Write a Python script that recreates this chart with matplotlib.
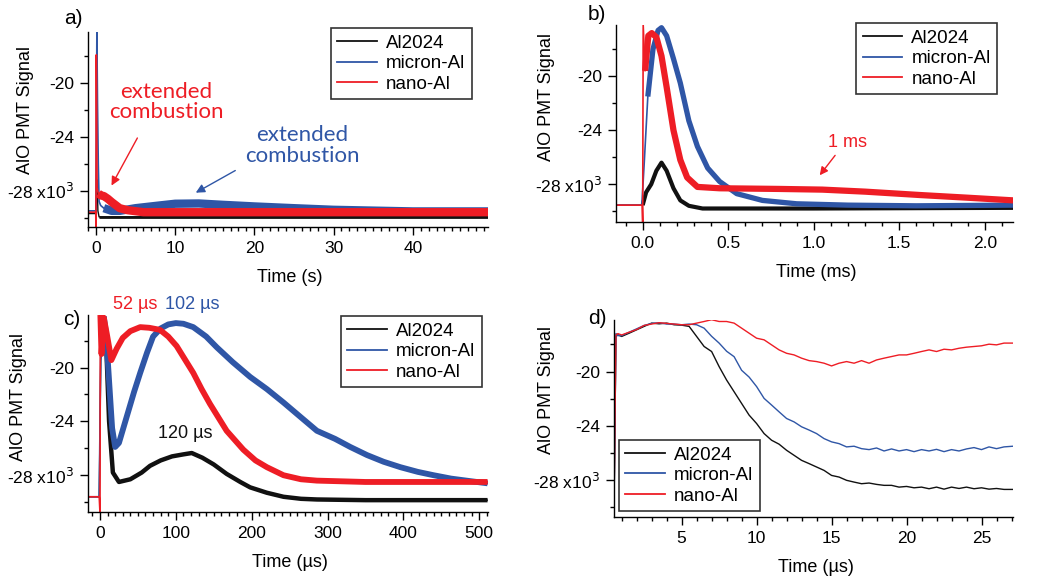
import matplotlib
matplotlib.use("Agg")
import matplotlib.pyplot as plt
from matplotlib.ticker import MultipleLocator, FixedLocator, FixedFormatter

plt.rcParams['font.family'] = ['Liberation Sans', 'DejaVu Sans']

BLACK = "#111111"
BLUE = "#2f56a6"
RED = "#ee1d25"

labels = ["Al2024", "micron-Al", "nano-Al"]

# panel a, time in s, signal in x10^3
a_black_t = [-1.0, 0.0, 0.15, 0.25, 0.4, 1.0, 2.0, 49.5]
a_black = [-29.7, -29.7, -27.2, -29.5, -29.95, -29.95, -29.95, -29.95]
a_blue_t = [-1.0, 0.0, 0.12, 0.2, 0.3, 0.4, 0.6, 1.0, 2.0, 3.0, 5.0, 8.0, 10.0, 13.0, 16.0, 20.0, 25.0, 30.0, 40.0, 49.5]
a_blue = [-29.5, -29.5, -16.2, -21.5, -26.0, -28.8, -29.1, -29.3, -29.5, -29.5, -29.3, -29.1, -28.97, -28.95, -29.05, -29.17, -29.3, -29.42, -29.54, -29.54]
a_red_t = [-1.0, -0.02, 0.0, 0.05, 0.15, 0.3, 0.6, 1.0, 1.5, 2.0, 3.0, 4.0, 6.0, 49.5]
a_red = [-29.6, -29.6, -30.8, -17.9, -27.8, -28.2, -28.35, -28.4, -28.6, -28.85, -29.3, -29.45, -29.6, -29.6]

# panel b, time in ms
b_black_t = [-0.15, 0.0, 0.02, 0.05, 0.08, 0.11, 0.14, 0.18, 0.22, 0.27, 0.35, 0.5, 1.0, 2.17]
b_black = [-29.55, -29.55, -28.6, -28.0, -27.0, -26.4, -27.0, -28.3, -29.2, -29.6, -29.8, -29.8, -29.8, -29.75]
b_blue_t = [-0.15, -0.005, 0.01, 0.03, 0.06, 0.09, 0.11, 0.14, 0.18, 0.22, 0.27, 0.32, 0.38, 0.45, 0.55, 0.7, 0.9, 1.2, 1.6, 2.17]
b_blue = [-29.55, -29.55, -26.2, -21.5, -18.0, -16.6, -16.4, -17.0, -18.7, -20.5, -23.3, -25.2, -26.8, -27.8, -28.7, -29.2, -29.45, -29.55, -29.6, -29.55]
b_red_t = [-0.15, -0.003, 0.0, 0.003, 0.014, 0.033, 0.053, 0.08, 0.11, 0.14, 0.18, 0.22, 0.26, 0.32, 0.45, 0.8, 1.05, 1.3, 1.62, 1.9, 2.17]
b_red = [-29.55, -29.55, -30.8, -16.2, -19.6, -17.0, -16.8, -17.1, -18.5, -20.8, -24.0, -26.2, -27.5, -28.2, -28.3, -28.35, -28.4, -28.55, -28.8, -29.0, -29.2]

# panel c, time in us
c_black_t = [-15, -1, 1, 5, 8, 12, 17, 25, 40, 55, 66, 80, 95, 110, 121, 135, 150, 167, 185, 198, 220, 242, 265, 286, 350, 420, 511]
c_black = [-29.6, -29.6, -19.5, -16.2, -18.0, -24.0, -27.8, -28.5, -28.3, -27.8, -27.3, -26.9, -26.6, -26.45, -26.35, -26.7, -27.2, -27.9, -28.5, -28.9, -29.3, -29.6, -29.75, -29.8, -29.85, -29.85, -29.85]
c_blue_t = [-15, -1, 1, 5, 8, 12, 16, 20, 25, 35, 45, 53, 62, 70, 80, 90, 100, 110, 123, 140, 154, 175, 198, 220, 242, 265, 286, 310, 330, 352, 374, 396, 419, 440, 463, 490, 511]
c_blue = [-29.6, -29.6, -19.0, -16.2, -17.5, -21.0, -24.5, -25.9, -25.6, -23.7, -21.8, -20.4, -18.9, -17.7, -17.1, -16.8, -16.7, -16.75, -17.0, -17.7, -18.5, -19.6, -20.7, -21.6, -22.6, -23.7, -24.7, -25.3, -25.9, -26.5, -27.0, -27.4, -27.75, -28.0, -28.25, -28.45, -28.6]
c_red_t = [-15, -1, 0, 0.5, 2, 5, 9, 15, 22, 30, 40, 53, 65, 79, 90, 101, 112, 123, 134, 145, 156, 167, 178, 189, 205, 220, 242, 265, 286, 350, 420, 511]
c_red = [-29.6, -29.6, -30.8, -16.1, -19.0, -16.3, -17.5, -19.45, -18.6, -17.8, -17.3, -17.0, -17.05, -17.2, -17.7, -18.4, -19.4, -20.4, -21.6, -22.7, -23.7, -24.7, -25.4, -26.1, -26.9, -27.4, -28.0, -28.3, -28.4, -28.5, -28.5, -28.5]

# panel d, time in us
d_t = [0.5, 0.62, 0.75, 1.0, 1.5, 2.0, 2.5, 3.0, 3.5, 4.0, 4.5, 5.0, 5.5, 6.0, 6.5, 7.0, 7.5, 8.0, 8.5, 9.0,
       9.5, 10.0, 10.5, 11.0, 11.5, 12.0, 12.5, 13.0, 13.5, 14.0, 14.5, 15.0, 15.5, 16.0, 16.5, 17.0, 17.5, 18.0,
       18.5, 19.0, 19.5, 20.0, 20.5, 21.0, 21.5, 22.0, 22.5, 23.0, 23.5, 24.0, 24.5, 25.0, 25.5, 26.0, 26.5, 27.1]
d_black = [-29.24, -17.41, -17.29, -17.41, -17.17, -16.92, -16.67, -16.43, -16.48, -16.43, -16.55, -16.58, -16.67,
           -17.41, -18.15, -18.52, -19.63, -20.62, -21.48, -22.34, -23.20, -23.82, -24.56, -25.05, -25.34, -25.79,
           -26.16, -26.53, -26.77, -27.02, -27.27, -27.64, -27.76, -28.00, -28.13, -28.25, -28.20, -28.30, -28.37,
           -28.37, -28.50, -28.45, -28.55, -28.50, -28.62, -28.50, -28.65, -28.50, -28.60, -28.50, -28.62, -28.55,
           -28.65, -28.60, -28.67, -28.67]
d_blue = [-29.3, -17.2, -17.35, -17.35, -17.1, -16.85, -16.6, -16.45, -16.4, -16.5, -16.5, -16.55, -16.5, -16.55,
          -16.8, -17.4, -17.9, -18.5, -18.9, -19.9, -20.4, -21.1, -21.97, -22.46, -22.96, -23.45, -23.7, -24.06,
          -24.3, -24.56, -24.93, -25.17, -25.3, -25.54, -25.49, -25.67, -25.74, -25.62, -25.84, -25.69, -25.84,
          -25.74, -25.89, -25.74, -25.84, -25.72, -25.89, -25.74, -25.84, -25.69, -25.59, -25.74, -25.54, -25.67,
          -25.54, -25.49]
d_red = [-29.0, -17.3, -17.2, -17.3, -17.1, -16.9, -16.6, -16.5, -16.4, -16.45, -16.5, -16.55, -16.55, -16.43,
         -16.31, -16.18, -16.31, -16.31, -16.43, -16.8, -17.17, -17.54, -17.66, -18.03, -18.4, -18.65, -18.77,
         -19.01, -19.19, -19.26, -19.38, -19.58, -19.38, -19.26, -19.38, -19.19, -19.38, -19.14, -19.01, -18.89,
         -18.77, -18.77, -18.65, -18.52, -18.4, -18.52, -18.35, -18.4, -18.28, -18.2, -18.15, -18.1, -17.98,
         -18.03, -17.9, -17.9]

W, H = 1045, 581
fig = plt.figure(figsize=(W / 100, H / 100), dpi=100)


def make_axes(left, top, right, bottom):
    return fig.add_axes([left / W, 1 - bottom / H, (right - left) / W, (bottom - top) / H])


def style(ax, xlim, ylim, xmajor, xminor, xlabel, ylab_x, ylab_y):
    ax.set_xlim(*xlim)
    ax.set_ylim(*ylim)
    for s in ["top", "right"]:
        ax.spines[s].set_visible(False)
    for s in ["left", "bottom"]:
        ax.spines[s].set_linewidth(1.0)
    ax.xaxis.set_major_locator(MultipleLocator(xmajor))
    ax.xaxis.set_minor_locator(MultipleLocator(xminor))
    ax.yaxis.set_major_locator(FixedLocator([-28, -24, -20]))
    ax.yaxis.set_major_formatter(FixedFormatter(["-28 x10$^3$", "-24", "-20"]))
    ax.yaxis.set_minor_locator(MultipleLocator(2))
    ax.tick_params(which="major", direction="out", length=6, width=1, labelsize=12.5, pad=4)
    ax.tick_params(which="minor", direction="out", length=3, width=1)
    ax.set_xlabel(xlabel, fontsize=13)
    ax.xaxis.set_label_coords(0.505, -0.215)
    ax.xaxis.label.set_va("top")
    ax.set_ylabel("AlO PMT Signal", fontsize=13)
    ax.yaxis.set_label_coords(ylab_x, ylab_y)


def trace(ax, t, y, color, thin, thick, cut):
    ax.plot(t, y, color=color, lw=thin, solid_joinstyle="round")
    if thick > thin:
        ax.plot(t[cut:], y[cut:], color=color, lw=thick,
                solid_capstyle="butt", solid_joinstyle="round")


def legend(ax, loc, anchor):
    handles = [plt.Line2D([], [], color=c, lw=1.3) for c in (BLACK, BLUE, RED)]
    lg = ax.legend(handles, labels, loc=loc, bbox_to_anchor=anchor, fontsize=13.5,
                   frameon=True, fancybox=False, edgecolor="#333333", framealpha=1,
                   handlelength=2.1, handletextpad=0.5, labelspacing=0.18, borderpad=0.35,
                   borderaxespad=0)
    lg.get_frame().set_linewidth(1.2)


ANN = ['Lato', 'DejaVu Sans']

# ---- a)
ax = make_axes(88, 32, 488, 227)
trace(ax, a_black_t, a_black, BLACK, 1.0, 2.0, 4)
trace(ax, a_blue_t, a_blue, BLUE, 1.2, 6.0, 7)
trace(ax, a_red_t, a_red, RED, 1.2, 6.0, 5)
style(ax, (-1, 49.5), (-30.7, -16.2), 10, 1, "Time (s)", -0.135, 0.6)
legend(ax, "upper right", (0.96, 1.02))
ax.annotate("", xy=(1.8, -27.8), xytext=(5.4, -23.9),
            arrowprops=dict(arrowstyle="-|>", color=RED, lw=1, mutation_scale=13))
ax.text(8.9, -21.4, "extended\ncombustion", color=RED, fontsize=16, family=ANN,
        ha="center", va="center", linespacing=1.05)
ax.annotate("", xy=(12.3, -28.25), xytext=(17.9, -26.4),
            arrowprops=dict(arrowstyle="-|>", color=BLUE, lw=1, mutation_scale=13))
ax.text(26.1, -24.65, "extended\ncombustion", color=BLUE, fontsize=16, family=ANN,
        ha="center", va="center", linespacing=1.05)
fig.text(73 / W, 1 - 18 / H, "a)", fontsize=15, ha="center", va="center")

# ---- b)
ax = make_axes(616, 25, 1013, 222)
trace(ax, b_black_t, b_black, BLACK, 1.0, 3.0, 1)
trace(ax, b_blue_t, b_blue, BLUE, 1.2, 3.8, 3)
trace(ax, b_red_t, b_red, RED, 1.2, 4.5, 4)
style(ax, (-0.156, 2.165), (-30.8, -16.2), 0.5, 0.1, "Time (ms)", -0.154, 0.635)
ax.xaxis.set_major_formatter(plt.FuncFormatter(lambda v, p: f"{v:.1f}"))
legend(ax, "upper right", (0.96, 1.01))
ax.annotate("", xy=(1.025, -27.5), xytext=(1.135, -25.7),
            arrowprops=dict(arrowstyle="-|>", color=RED, lw=1, mutation_scale=12))
ax.text(1.2, -24.9, "1 ms", color=RED, fontsize=13, ha="center", va="center")
fig.text(597 / W, 1 - 15 / H, "b)", fontsize=15, ha="center", va="center")

# ---- c)
ax = make_axes(88, 315, 488, 512)
trace(ax, c_black_t, c_black, BLACK, 1.0, 3.2, 3)
trace(ax, c_blue_t, c_blue, BLUE, 1.2, 4.2, 3)
trace(ax, c_red_t, c_red, RED, 1.2, 4.2, 3)
style(ax, (-15.8, 511.6), (-30.73, -16.1), 100, 10, "Time (µs)", -0.153, 0.583)
legend(ax, "upper right", (0.985, 0.995))
ax.text(47, -15.35, "52 µs", color=RED, fontsize=13, ha="center", va="center", clip_on=False)
ax.text(121.5, -15.35, "102 µs", color=BLUE, fontsize=13, ha="center", va="center", clip_on=False)
ax.text(112, -24.9, "120 µs", color=BLACK, fontsize=13, ha="center", va="center")
fig.text(72 / W, 1 - 320 / H, "c)", fontsize=15, ha="center", va="center")

# ---- d)
ax = make_axes(614, 320, 1013, 517)
ax.plot(d_t, d_black, color=BLACK, lw=1.0)
ax.plot(d_t, d_blue, color=BLUE, lw=1.0)
ax.plot(d_t, d_red, color=RED, lw=1.0)
style(ax, (0.49, 27.1), (-30.7, -16.2), 5, 1, "Time (µs)", -0.148, 0.644)
legend(ax, "lower left", (0.012, 0.03))
fig.text(597 / W, 1 - 318 / H, "d)", fontsize=15, ha="center", va="center")

fig.savefig("out.png", dpi=100)
